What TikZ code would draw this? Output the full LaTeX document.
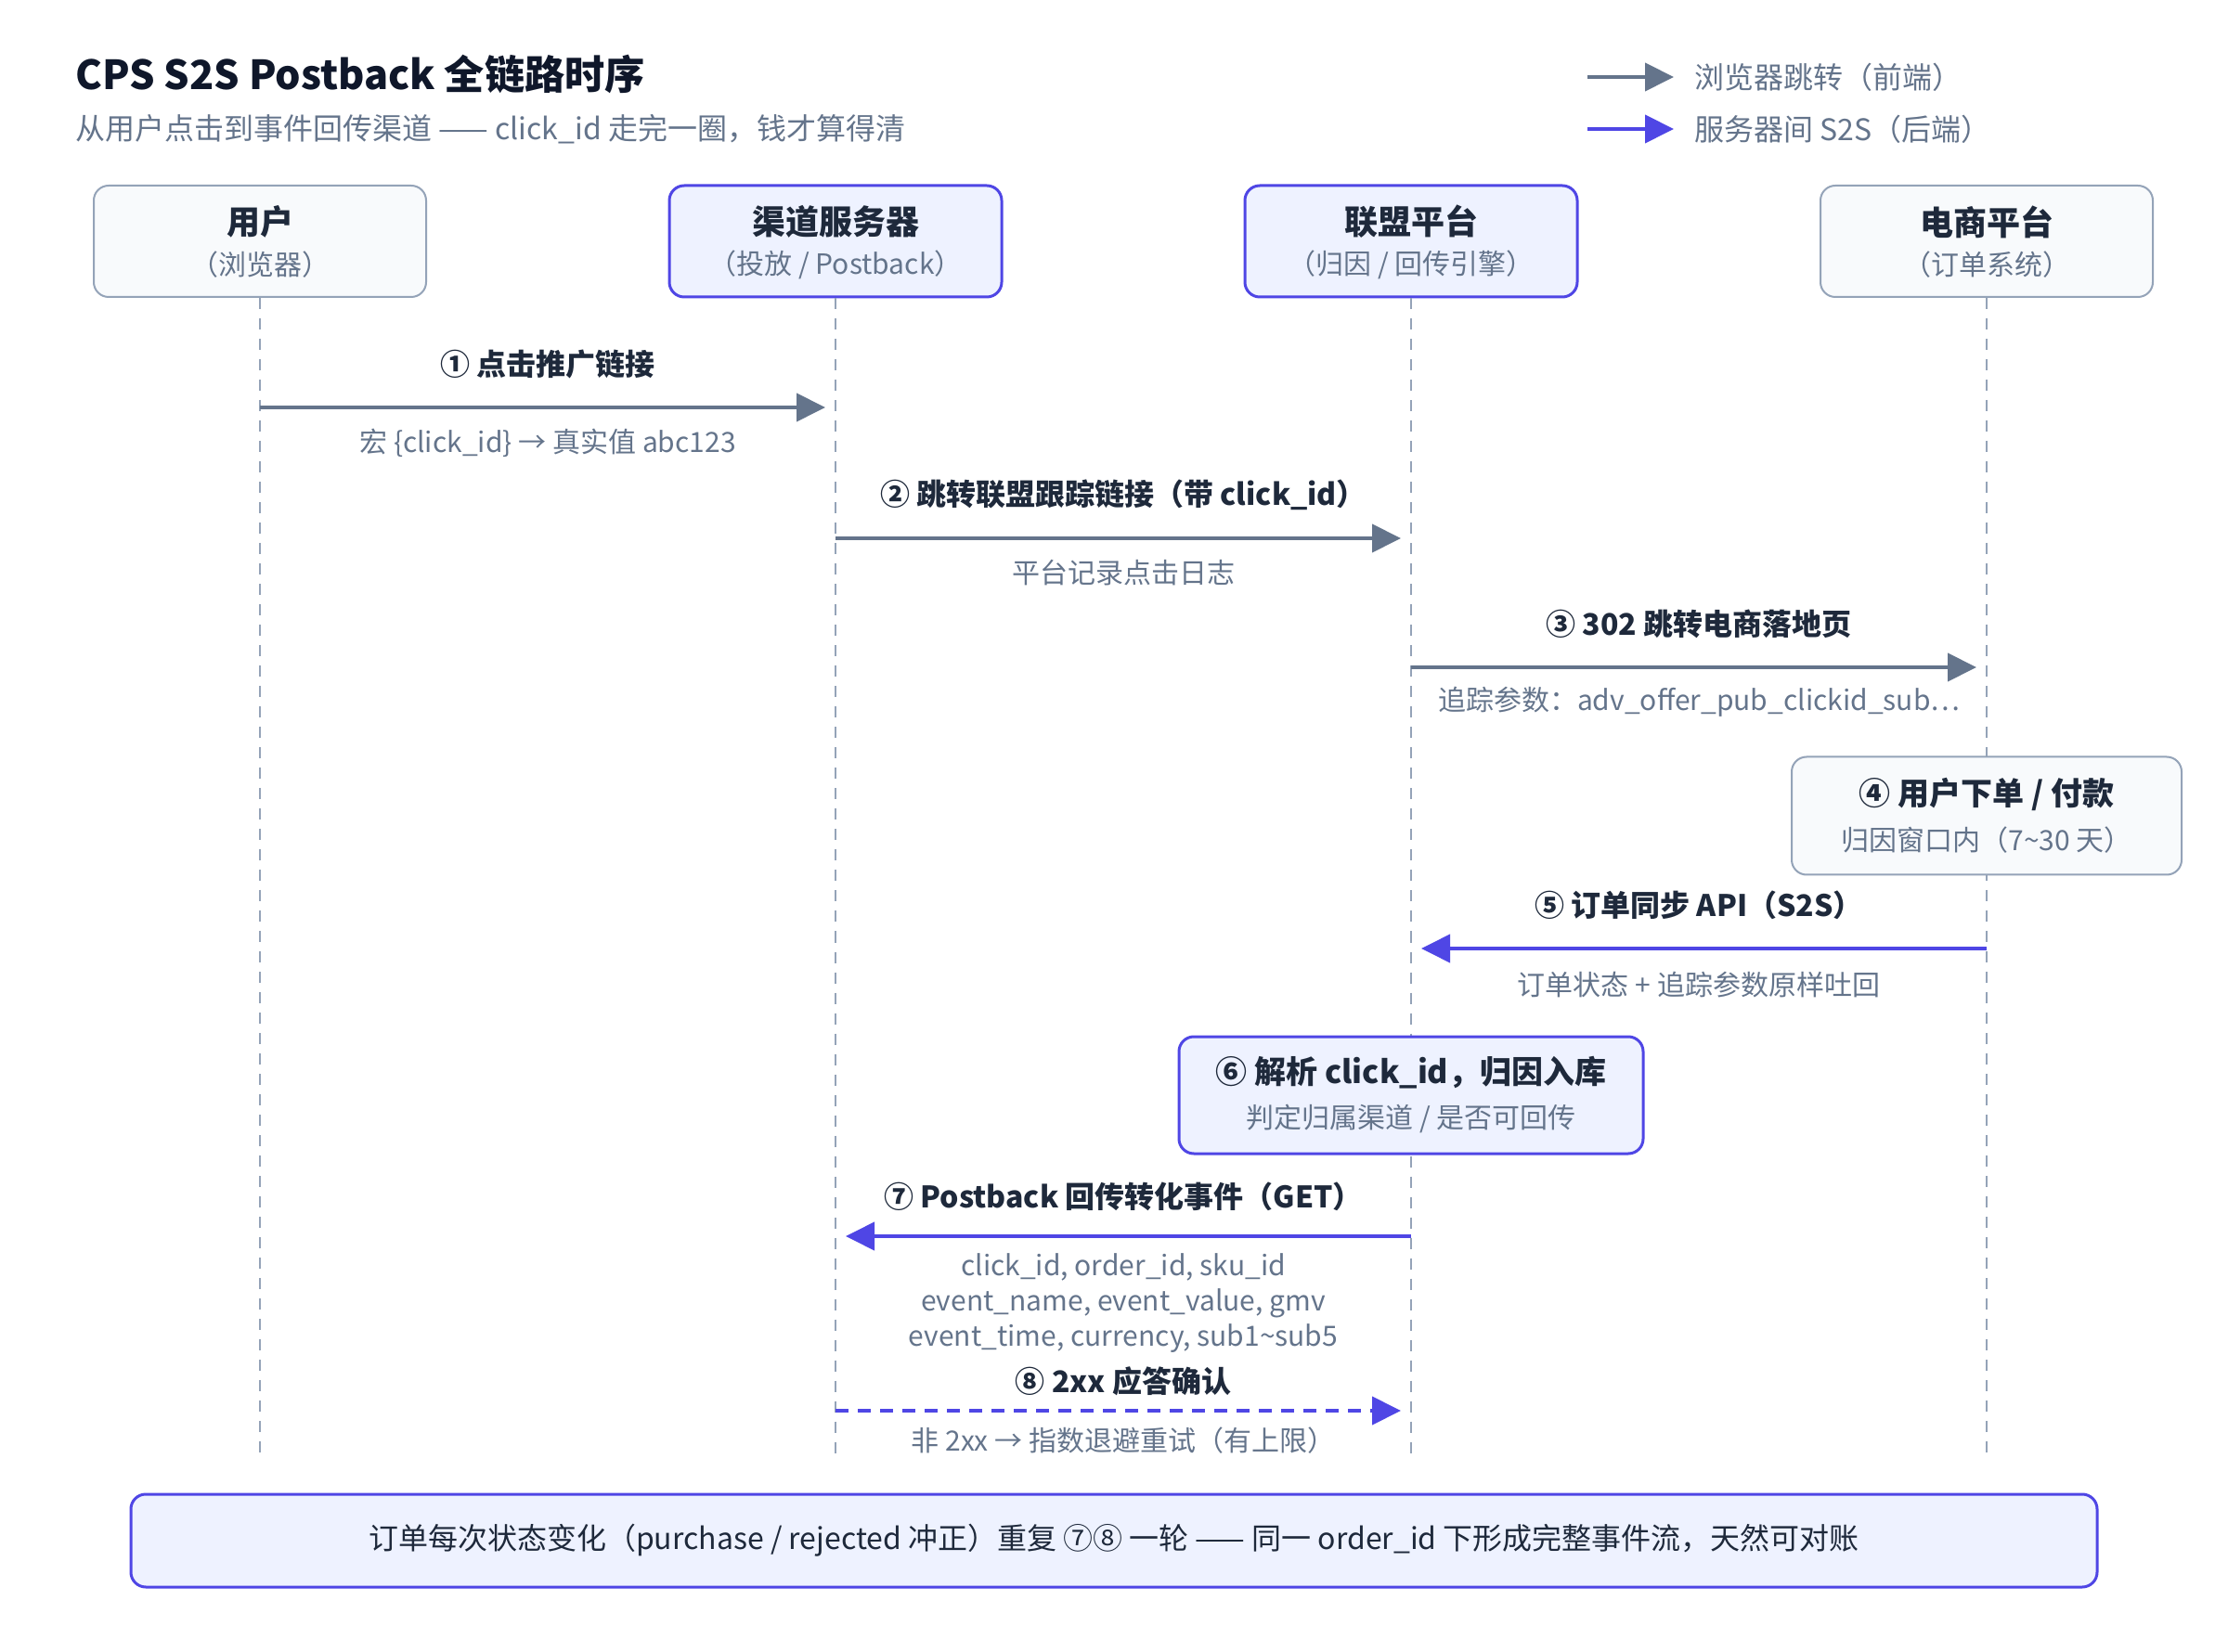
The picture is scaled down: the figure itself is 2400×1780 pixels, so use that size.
\documentclass[tikz,border=0pt]{standalone}
\usepackage{fontspec}
\setmainfont{Noto Sans CJK SC}
\usetikzlibrary{arrows.meta}
\definecolor{ink}{HTML}{1E293B}
\definecolor{titleink}{HTML}{0F172A}
\definecolor{muted}{HTML}{64748B}
\definecolor{slatearrow}{HTML}{64748B}
\definecolor{indigo}{HTML}{4F46E5}
\definecolor{indfill}{HTML}{EEF2FF}
\definecolor{grayfill}{HTML}{F8FAFC}
\definecolor{grayline}{HTML}{94A3B8}
\newcommand\pxf[1]{\fontsize{#1pt}{#1pt}\selectfont}
\tikzset{
  grayhead/.style={draw=grayline, line width=1pt, fill=grayfill, rounded corners=8pt, inner sep=0pt},
  indhead/.style={draw=indigo, line width=1.5pt, fill=indfill, rounded corners=8pt, inner sep=0pt},
  headtitle/.style={font=\pxf{18}\bfseries, text=ink, inner sep=0pt},
  boxtitle/.style={font=\pxf{17}\bfseries, text=ink, inner sep=0pt},
  boxsub/.style={font=\pxf{15}, text=muted, inner sep=0pt},
  msglabel/.style={font=\pxf{16}\bfseries, text=ink, inner sep=0pt},
  msgsub/.style={font=\pxf{15}, text=muted, inner sep=0pt},
  legtext/.style={font=\pxf{16}, text=muted, inner sep=0pt, anchor=west},
  fwdarrow/.style={draw=slatearrow, line width=2pt, -{Triangle[length=15.5pt,width=15pt]}},
  sarrow/.style={draw=indigo, line width=2pt, -{Triangle[length=15.5pt,width=15pt]}},
  lifeline/.style={draw=grayline, line width=1pt, dash pattern=on 6pt off 5pt},
}
\begin{document}
\begin{tikzpicture}[x=0.5pt,y=-0.5pt]
\useasboundingbox (0,0) rectangle (2400,1780);
\fill[white] (0,0) rectangle (2400,1780);

% title
\node[anchor=west, inner sep=0pt, font=\pxf{21.6}\bfseries, text=titleink] (title) at (81,80) {CPS S2S Postback 全链路时序};
\node[anchor=west, inner sep=0pt, font=\pxf{16}, text=muted] (subtitle) at (81,139) {从用户点击到事件回传渠道 —— click\_id 走完一圈，钱才算得清};

% legend
\coordinate (lg1a) at (1710,83); \coordinate (lg1b) at (1803,83);
\coordinate (lg2a) at (1710,139); \coordinate (lg2b) at (1803,139);
\draw[fwdarrow] (lg1a) -- (lg1b);
\draw[sarrow] (lg2a) -- (lg2b);
\node[legtext] (lgt1) at (1825,83) {浏览器跳转（前端）};
\node[legtext] (lgt2) at (1825,139) {服务器间 S2S（后端）};

% lifeline heads
\node[grayhead, minimum width=179pt, minimum height=60pt] (user) at (280,260) {};
\node[indhead, minimum width=179pt, minimum height=60pt] (chan) at (900,260) {};
\node[indhead, minimum width=179pt, minimum height=60pt] (aff) at (1520,260) {};
\node[grayhead, minimum width=179pt, minimum height=60pt] (shop) at (2140,260) {};

% lifelines
\coordinate (userEnd) at (280,1569);
\coordinate (chanEnd) at (900,1569);
\coordinate (affEnd) at (1520,1569);
\coordinate (shopEnd) at (2140,1569);
\draw[lifeline] (user.south) -- (userEnd);
\draw[lifeline] (chan.south) -- (chanEnd);
\draw[lifeline] (aff.south) -- (affEnd);
\draw[lifeline] (shop.south) -- (shopEnd);

\node[headtitle] (userT) at (280,239) {用户};
\node[boxsub] (userS) at (280,285) {（浏览器）};
\node[headtitle] (chanT) at (900,239) {渠道服务器};
\node[boxsub] (chanS) at (900,285) {（投放 / Postback）};
\node[headtitle] (affT) at (1520,239) {联盟平台};
\node[boxsub] (affS) at (1520,285) {（归因 / 回传引擎）};
\node[headtitle] (shopT) at (2140,239) {电商平台};
\node[boxsub] (shopS) at (2140,285) {（订单系统）};

% message 1
\coordinate (m1a) at (280,439); \coordinate (m1b) at (900,439);
\node[msglabel] (m1l) at (590,392) {① 点击推广链接};
\draw[fwdarrow, shorten >=5.5pt] (m1a) -- (m1b);
\node[msgsub] (m1s) at (590,477) {宏 \{click\_id\} → 真实值 abc123};

% message 2
\coordinate (m2a) at (900,580); \coordinate (m2b) at (1520,580);
\node[msglabel] (m2l) at (1210,533) {② 跳转联盟跟踪链接（带 click\_id）};
\draw[fwdarrow, shorten >=5.5pt] (m2a) -- (m2b);
\node[msgsub] (m2s) at (1210,617) {平台记录点击日志};

% message 3
\coordinate (m3a) at (1520,719); \coordinate (m3b) at (2140,719);
\node[msglabel] (m3l) at (1830,672) {③ 302 跳转电商落地页};
\draw[fwdarrow, shorten >=5.5pt] (m3a) -- (m3b);
\node[msgsub] (m3s) at (1830,756) {追踪参数：adv\_offer\_pub\_clickid\_sub…};

% step 4 box
\node[grayhead, minimum width=210pt, minimum height=63.5pt] (order) at (2140,879) {};
\node[boxtitle] (orderT) at (2140,856) {④ 用户下单 / 付款};
\node[boxsub] (orderS) at (2140,905) {归因窗口内（7\textasciitilde30 天）};

% message 5
\coordinate (m5a) at (2140,1022); \coordinate (m5b) at (1520,1022);
\node[msglabel] (m5l) at (1830,975) {⑤ 订单同步 API（S2S）};
\draw[sarrow, shorten >=5.5pt] (m5a) -- (m5b);
\node[msgsub] (m5s) at (1830,1061) {订单状态 + 追踪参数原样吐回};

% step 6 box
\node[indhead, minimum width=250pt, minimum height=63pt] (attr) at (1520,1180) {};
\node[boxtitle] (attrT) at (1520,1156) {⑥ 解析 click\_id，归因入库};
\node[boxsub] (attrS) at (1520,1205) {判定归属渠道 / 是否可回传};

% message 7
\coordinate (m7a) at (1520,1332); \coordinate (m7b) at (900,1332);
\node[msglabel] (m7l) at (1210,1289) {⑦ Postback 回传转化事件（GET）};
\draw[sarrow, shorten >=5.5pt] (m7a) -- (m7b);
\node[msgsub] (m7s1) at (1210,1365) {click\_id, order\_id, sku\_id};
\node[msgsub] (m7s2) at (1210,1404) {event\_name, event\_value, gmv};
\node[msgsub] (m7s3) at (1210,1442) {event\_time, currency, sub1\textasciitilde sub5};

% message 8
\coordinate (m8a) at (900,1520); \coordinate (m8b) at (1520,1520);
\node[msglabel] (m8l) at (1210,1488) {⑧ 2xx 应答确认};
\draw[sarrow, dash pattern=on 7pt off 5pt, shorten >=5.5pt] (m8a) -- (m8b);
\node[msgsub] (m8s) at (1210,1552) {非 2xx → 指数退避重试（有上限）};

% bottom note
\node[indhead, minimum width=1059pt, minimum height=50pt, font=\pxf{16}, text=ink] (note) at (1200,1660)
  {订单每次状态变化（purchase / rejected 冲正）重复 ⑦⑧ 一轮 —— 同一 order\_id 下形成完整事件流，天然可对账};
\end{tikzpicture}
\end{document}
